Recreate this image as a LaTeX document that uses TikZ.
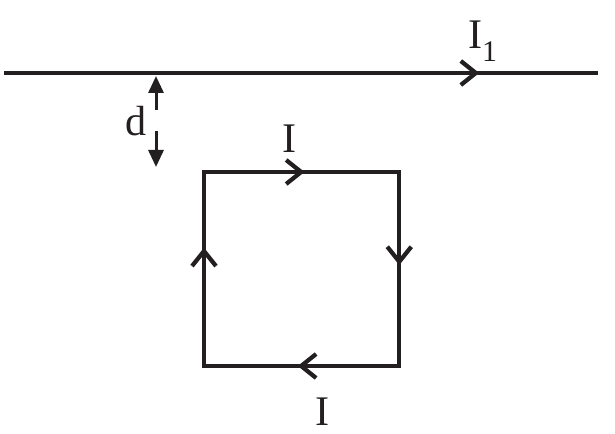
\documentclass[tikz,border=0pt]{standalone}
\usepackage{fontspec}
\setmainfont{Liberation Serif}
\usetikzlibrary{arrows.meta}
\usetikzlibrary{decorations.markings}
\definecolor{ink}{HTML}{231F20}

\begin{document}
\begin{tikzpicture}[
            wire/.style={draw=ink, line width=0.085cm},
            side/.style={wire, line cap=rect},
            flow/.style={postaction={decorate}, decoration={markings, mark=at position #1 with {\arrow[ink, line width=0.085cm]{Straight Barb[length=0.3cm, width=0.48cm]}}}},
            gap/.style={draw=ink, line width=0.06cm, -{Triangle[length=0.34cm, width=0.3cm]}},
            label/.style={text=ink, inner sep=0pt, font=\fontsize{24}{24}\selectfont}
        ]
            \useasboundingbox (0,0) rectangle (12.3,8.66);

            % long wire
            \coordinate (wireL) at (0.08,7.2);
            \coordinate (wireR) at (11.96,7.2);
            \draw[wire, flow=0.80] (wireL) -- (wireR);

            % square loop
            \coordinate (loopTL) at (4.08,5.22);
            \coordinate (loopTR) at (7.985,5.22);
            \coordinate (loopBR) at (7.985,1.34);
            \coordinate (loopBL) at (4.08,1.34);
            \draw[side, flow=0.515] (loopTL) -- (loopTR);
            \draw[side, flow=0.48] (loopTR) -- (loopBR);
            \draw[side, flow=0.52] (loopBR) -- (loopBL);
            \draw[side, flow=0.61] (loopBL) -- (loopTL);

            % distance d
            \coordinate (gapA) at (3.12,6.46);
            \coordinate (gapB) at (3.12,7.14);
            \coordinate (gapC) at (3.12,6.04);
            \coordinate (gapD) at (3.12,5.32);
            \draw[gap] (gapA) -- (gapB);
            \draw[gap] (gapC) -- (gapD);

            \node[label] (dist) at (2.72,6.23) {d};
            \node[label] (curOne) at (9.65,7.84) {I\raisebox{-0.25cm}{\fontsize{17}{17}\selectfont 1}};
            \node[label] (curTop) at (5.8,5.88) {I};
            \node[label] (curBot) at (6.46,0.42) {I};
        \end{tikzpicture}
\end{document}
